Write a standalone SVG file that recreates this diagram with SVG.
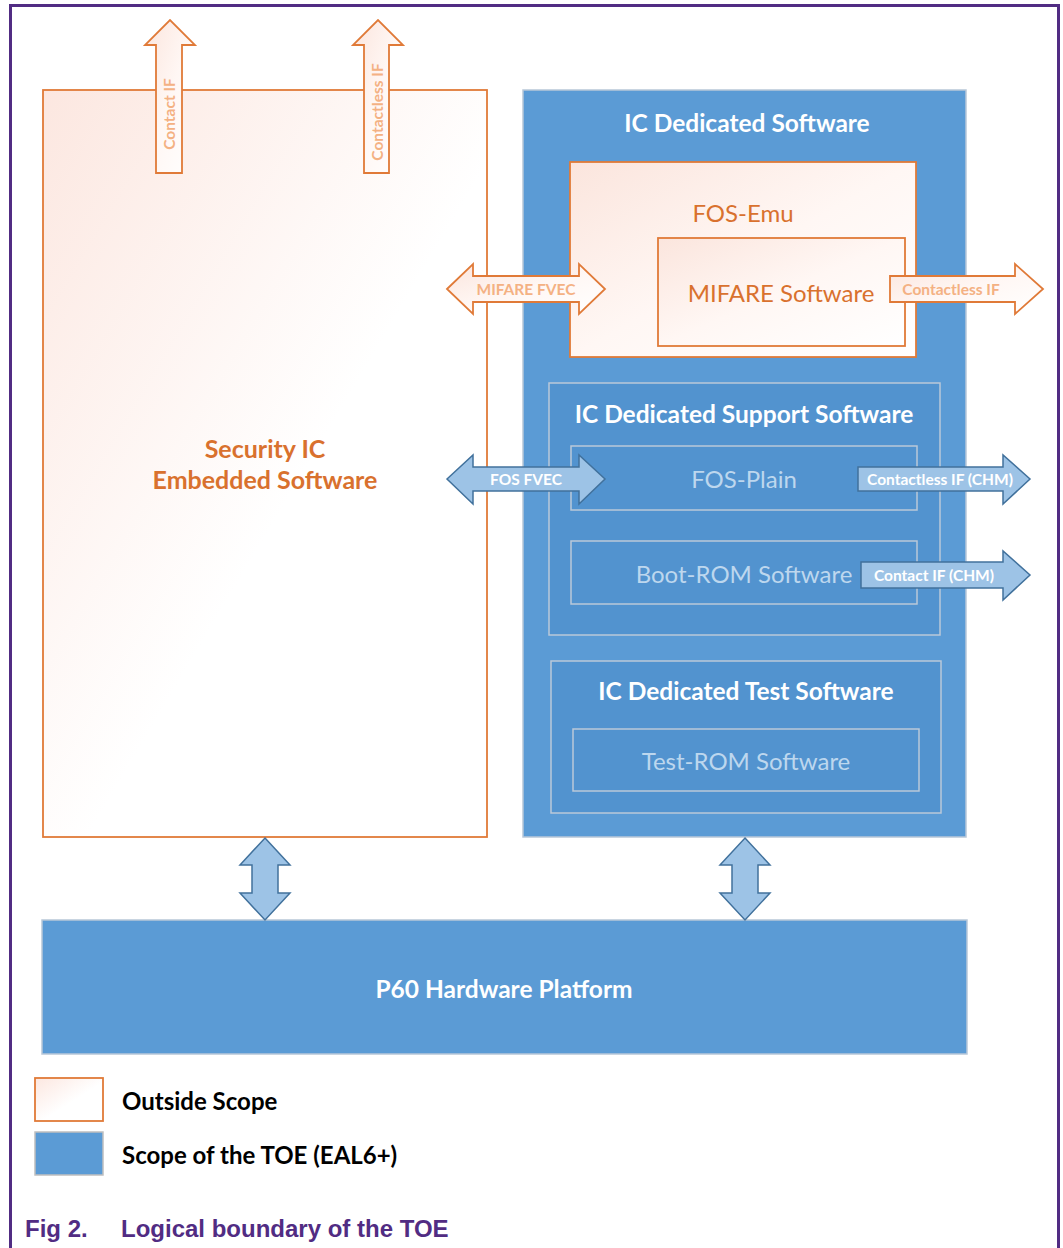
<svg xmlns="http://www.w3.org/2000/svg" width="1063" height="1248" viewBox="0 0 1063 1248">
<defs>
<linearGradient id="og" x1="0" y1="0" x2="1" y2="1">
<stop offset="0" stop-color="#FCE7E0"/>
<stop offset="0.55" stop-color="#FFFFFF"/>
<stop offset="1" stop-color="#FFFFFF"/>
</linearGradient>
<linearGradient id="og2" x1="0" y1="0" x2="1" y2="1">
<stop offset="0" stop-color="#FBE5DD"/>
<stop offset="0.5" stop-color="#FFF7F4"/>
<stop offset="1" stop-color="#FFFFFF"/>
</linearGradient>
<style>
.outside{fill:url(#og);stroke:#E07A38;stroke-width:1.8}
.outside2{fill:url(#og2);stroke:#E07A38;stroke-width:1.8}
.toe{fill:#5B9BD5;stroke:#B8C7D8;stroke-width:1.5}
.inner{fill:#5293CF;stroke:#BAC9D9;stroke-width:1.5}
.barrow{fill:#9DC3E6;stroke:#41719C;stroke-width:1.5;stroke-linejoin:miter}
.oarrow{fill:url(#og2);stroke:#E07A38;stroke-width:1.8}
.t{font-family:Lato,"Open Sans","Liberation Sans",sans-serif;text-anchor:middle;dominant-baseline:central}
.wt{fill:#FFFFFF;font-weight:bold;font-size:24.5px}
.lt{fill:#BDD7EE;font-size:24px}
.ot{fill:#D9712E;font-size:24px}
.oat{fill:#F4B183;font-weight:bold;font-size:15.5px}
.bat{fill:#FFFFFF;font-weight:bold;font-size:15.5px}
.lg{font-family:Lato,"Open Sans","Liberation Sans",sans-serif;font-weight:bold;font-size:24px;fill:#000000;dominant-baseline:central}
.cap{font-family:"Liberation Sans",Arial,sans-serif;font-weight:bold;font-size:24px;fill:#512C83}
</style>
</defs>
<rect width="1063" height="1248" fill="#FFFFFF"/>
<g id="frame" fill="none" stroke="#512C83" stroke-width="3">
<path d="M10.5,1248 V5.5 H1058.5 V1248"/>
</g>

<g id="security-ic">
<rect class="outside" x="43" y="90" width="444" height="747"/>
<text class="t" x="265" y="448" font-size="25" font-weight="bold" fill="#D9712E">Security IC</text>
<text class="t" x="265" y="479" font-size="25" font-weight="bold" fill="#D9712E">Embedded Software</text>
</g>

<g id="ic-dedicated">
<rect class="toe" x="523" y="90" width="443" height="747"/>
<text class="t wt" x="747" y="122">IC Dedicated Software</text>
</g>

<g id="fos-emu">
<rect class="outside2" x="570" y="162" width="346" height="195"/>
<text class="t ot" x="743" y="212">FOS-Emu</text>
</g>

<g id="mifare-sw">
<rect class="outside2" x="658" y="238" width="247" height="108"/>
<text class="t ot" x="781" y="292">MIFARE Software</text>
</g>

<g id="support-sw">
<rect class="inner" x="549" y="383" width="391" height="252"/>
<text class="t wt" x="744" y="413">IC Dedicated Support Software</text>
</g>

<g id="fos-plain">
<rect class="inner" x="571" y="446" width="346" height="64"/>
<text class="t lt" x="744" y="478">FOS-Plain</text>
</g>

<g id="boot-rom">
<rect class="inner" x="571" y="541" width="346" height="63"/>
<text class="t lt" x="744" y="573">Boot-ROM Software</text>
</g>

<g id="test-sw">
<rect class="inner" x="551" y="661" width="390" height="152"/>
<text class="t wt" x="746" y="690">IC Dedicated Test Software</text>
</g>

<g id="test-rom">
<rect class="inner" x="573" y="729" width="346" height="62"/>
<text class="t lt" x="746" y="760">Test-ROM Software</text>
</g>

<g id="p60">
<rect class="toe" x="42" y="920" width="925" height="134"/>
<text class="t wt" x="504" y="988">P60 Hardware Platform</text>
</g>

<g id="connectors">
<path class="oarrow" d="M156,173 V45 H145 L170,20 L195,45 H182 V173 Z"/>
<text class="t oat" transform="translate(169,114) rotate(-90)">Contact IF</text>
<path class="oarrow" d="M364,173 V45 H353 L378,20 L403,45 H389 V173 Z"/>
<text class="t oat" transform="translate(377,112) rotate(-90)">Contactless IF</text>
<path class="oarrow" d="M447,289 L473,264 V276 H579 V264 L605,289 L579,314 V302 H473 V314 Z"/>
<text class="t oat" x="526" y="289">MIFARE FVEC</text>
<path class="oarrow" d="M890,276 H1015 V264 L1043,289 L1015,314 V302 H890 Z"/>
<text class="t oat" x="951" y="289">Contactless IF</text>
<path class="barrow" d="M447,479 L473,455 V467 H579 V455 L605,479 L579,504 V491 H473 V504 Z"/>
<text class="t bat" x="526" y="479">FOS FVEC</text>
<path class="barrow" d="M858,467 H1003 V455 L1030,479 L1003,504 V491 H858 Z"/>
<text class="t bat" x="940" y="479">Contactless IF (CHM)</text>
<path class="barrow" d="M861,562 H1003 V551 L1030,575 L1003,600 V588 H861 Z"/>
<text class="t bat" x="934" y="575">Contact IF (CHM)</text>
<path class="barrow" d="M265,838 L290,865 H278 V893 H290 L265,920 L240,893 H252 V865 H240 Z"/>
<path class="barrow" d="M745,838 L770,865 H758 V893 H770 L745,920 L720,893 H732 V865 H720 Z"/>
</g>

<g id="legend">
<rect class="outside" x="35" y="1078" width="68" height="43"/>
<text class="lg" x="122" y="1100">Outside Scope</text>
<rect x="35" y="1132" width="68" height="43" fill="#5B9BD5" stroke="#BFBFBF" stroke-width="1.5"/>
<text class="lg" x="122" y="1154">Scope of the TOE (EAL6+)</text>
</g>

<g id="caption">
<text class="cap" x="25" y="1237">Fig 2.</text>
<text class="cap" x="121" y="1237">Logical boundary of the TOE</text>
</g>
</svg>
